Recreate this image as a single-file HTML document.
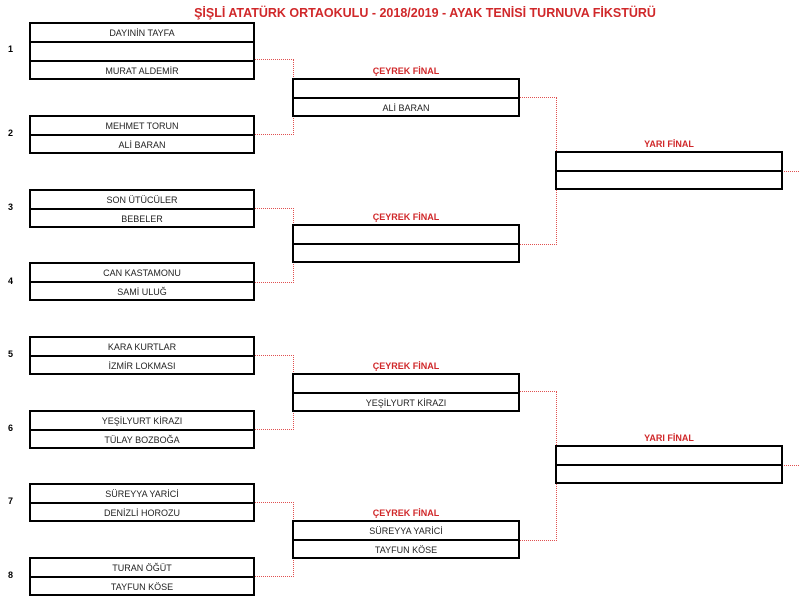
<!DOCTYPE html>
<html><head><meta charset="utf-8"><style>
body{margin:0;width:800px;height:594px;background:#fff;position:relative;overflow:hidden;font-family:"Liberation Sans",sans-serif}
.b{position:absolute;border:2.5px solid #000;box-sizing:border-box;background:#fff}
.r{height:19px;line-height:18px;text-align:center;font-size:9px;color:#222;border-bottom:2.5px solid #000;box-sizing:border-box}
.r:last-child{border-bottom:none}
.n{position:absolute;left:8px;font-size:9px;font-weight:bold}
.l{position:absolute;color:#d0282a;font-size:9px;font-weight:bold;text-align:center}
.c{position:absolute;border:1px dotted #e05050;border-left:none}
</style></head><body>
<div class="l" style="left:180px;top:6px;width:490px;font-size:12.5px">ŞİŞLİ ATATÜRK ORTAOKULU - 2018/2019 - AYAK TENİSİ TURNUVA FİKSTÜRÜ</div>

<div class="c" style="left:254px;top:59px;width:39px;height:74px"></div>
<div class="c" style="left:254px;top:208px;width:39px;height:73px"></div>
<div class="c" style="left:254px;top:355px;width:39px;height:73px"></div>
<div class="c" style="left:254px;top:502px;width:39px;height:73px"></div>
<div class="c" style="left:518px;top:97px;width:38px;height:146px"></div>
<div class="c" style="left:518px;top:391px;width:38px;height:148px"></div>
<div class="c" style="left:781px;top:171px;width:30px;height:0;border-right:none;border-bottom:none"></div>
<div class="c" style="left:781px;top:465px;width:30px;height:0;border-right:none;border-bottom:none"></div>

<div class="n" style="top:44px">1</div>
<div class="n" style="top:128px">2</div>
<div class="n" style="top:202px">3</div>
<div class="n" style="top:276px">4</div>
<div class="n" style="top:349px">5</div>
<div class="n" style="top:423px">6</div>
<div class="n" style="top:496px">7</div>
<div class="n" style="top:570px">8</div>

<div class="b" style="left:29px;top:22px;width:226px;height:58px"><div class="r">DAYINİN TAYFA</div><div class="r"></div><div class="r">MURAT ALDEMİR</div></div>
<div class="b" style="left:29px;top:115px;width:226px;height:39px"><div class="r">MEHMET TORUN</div><div class="r">ALİ BARAN</div></div>
<div class="b" style="left:29px;top:189px;width:226px;height:39px"><div class="r">SON ÜTÜCÜLER</div><div class="r">BEBELER</div></div>
<div class="b" style="left:29px;top:262px;width:226px;height:39px"><div class="r">CAN KASTAMONU</div><div class="r">SAMİ ULUĞ</div></div>
<div class="b" style="left:29px;top:336px;width:226px;height:39px"><div class="r">KARA KURTLAR</div><div class="r">İZMİR LOKMASI</div></div>
<div class="b" style="left:29px;top:410px;width:226px;height:39px"><div class="r">YEŞİLYURT KİRAZI</div><div class="r">TÜLAY BOZBOĞA</div></div>
<div class="b" style="left:29px;top:483px;width:226px;height:39px"><div class="r">SÜREYYA YARİCİ</div><div class="r">DENİZLİ HOROZU</div></div>
<div class="b" style="left:29px;top:557px;width:226px;height:39px"><div class="r">TURAN ÖĞÜT</div><div class="r">TAYFUN KÖSE</div></div>

<div class="l" style="left:292px;top:66px;width:228px">ÇEYREK FİNAL</div>
<div class="b" style="left:292px;top:78px;width:228px;height:39px"><div class="r"></div><div class="r">ALİ BARAN</div></div>
<div class="l" style="left:292px;top:212px;width:228px">ÇEYREK FİNAL</div>
<div class="b" style="left:292px;top:224px;width:228px;height:39px"><div class="r"></div><div class="r"></div></div>
<div class="l" style="left:292px;top:361px;width:228px">ÇEYREK FİNAL</div>
<div class="b" style="left:292px;top:373px;width:228px;height:39px"><div class="r"></div><div class="r">YEŞİLYURT KİRAZI</div></div>
<div class="l" style="left:292px;top:508px;width:228px">ÇEYREK FİNAL</div>
<div class="b" style="left:292px;top:520px;width:228px;height:39px"><div class="r">SÜREYYA YARİCİ</div><div class="r">TAYFUN KÖSE</div></div>

<div class="l" style="left:555px;top:139px;width:228px">YARI FİNAL</div>
<div class="b" style="left:555px;top:151px;width:228px;height:39px"><div class="r"></div><div class="r"></div></div>
<div class="l" style="left:555px;top:433px;width:228px">YARI FİNAL</div>
<div class="b" style="left:555px;top:445px;width:228px;height:39px"><div class="r"></div><div class="r"></div></div>
</body></html>
